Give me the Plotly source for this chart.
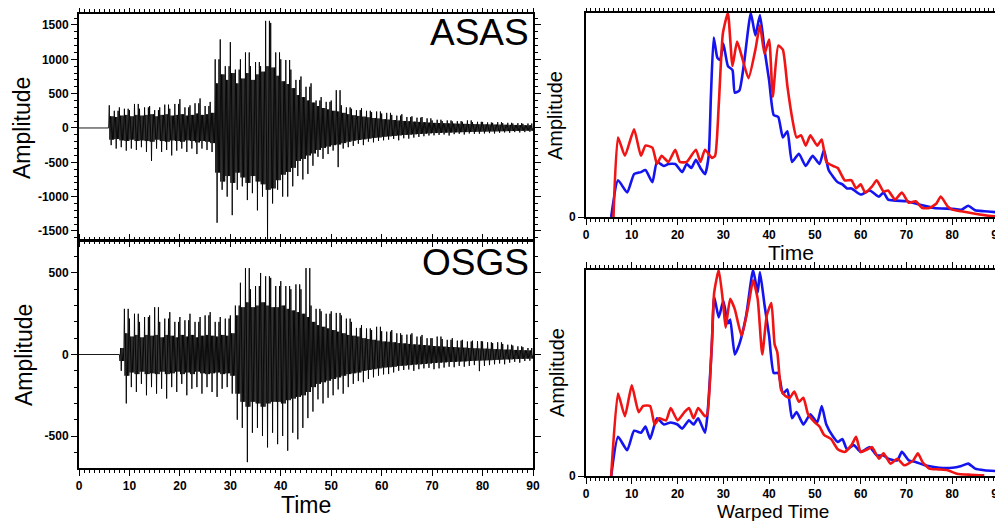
import numpy as np
import plotly.graph_objects as go

# ---------------- data ----------------
# Seismogram envelopes (1 s steps): positive peak and negative peak within second i
asas_up = [0, 0, 0, 0, 0, 0,
           330, 250, 300, 280, 260, 350, 280, 300, 320, 260, 300, 340, 280, 350, 420, 300, 330, 360, 430, 320, 380,
           1000, 1290, 900, 1250, 850, 1000, 1100, 900, 960, 900, 1560, 1530, 1100, 1000,
           990, 850, 700, 750, 600, 650, 400, 450, 380, 400,
           550, 330, 300, 280, 260, 290, 250, 230, 240, 210,
           220, 190, 180, 200, 160, 170, 150, 160, 140, 110,
           120, 100, 110, 95, 100, 90, 110, 85, 90, 88,
           80, 75, 85, 70, 75, 65, 70, 60, 65]
asas_lo = [0, 0, 0, 0, 0, 0,
           -250, -300, -280, -330, -300, -320, -280, -350, -480, -300, -350, -320, -400, -330, -300, -350, -300, -380, -300, -320, -350,
           -1380, -900, -1000, -1270, -900, -850, -1050, -950, -1200, -1000, -1640, -1100, -900, -1000,
           -1000, -850, -700, -750, -670, -550, -420, -450, -380, -330,
           -570, -300, -280, -260, -230, -250, -200, -210, -190, -180,
           -170, -160, -180, -150, -155, -140, -130, -120, -110, -107,
           -100, -95, -110, -90, -85, -95, -80, -85, -83, -80,
           -75, -80, -70, -65, -70, -60, -65, -60, -55]
# typical (dense core) level per second, read from the solid black part of the trace
asas_core = [0, 0, 0, 0, 0, 0,
             170, 160, 180, 190, 170, 190, 180, 190, 200, 170, 190, 200, 180, 190, 200, 180, 190, 210, 190, 200, 220,
             650, 780, 700, 800, 650, 720, 800, 700, 780, 820, 900, 880, 760, 680,
             640, 580, 480, 450, 400, 370, 320, 290, 270, 250,
             240, 220, 200, 185, 175, 165, 155, 145, 138, 128,
             122, 116, 108, 102, 98, 92, 88, 84, 78, 74,
             72, 69, 67, 64, 62, 60, 58, 56, 54, 53,
             51, 50, 48, 47, 45, 44, 42, 40, 40]
osgs_up = [0, 0, 0, 0, 0, 0, 0, 0, 0,
           280, 220, 250, 200, 230, 240, 290, 200, 220, 260, 200, 230, 210, 250, 200, 230, 240, 260, 200, 230, 220, 240,
           300, 440, 530, 400, 420, 500, 480, 470, 420, 450, 420, 400, 430, 400, 530,
           300, 280, 265, 250, 265, 255, 240, 220, 200, 163, 180, 160, 150, 170, 143,
           140, 150, 130, 120, 122, 130, 110, 120, 100, 100, 110, 95, 90, 100, 85,
           90, 80, 85, 82, 80, 75, 70, 75, 65, 60, 55, 50, 45, 40]
osgs_lo = [0, 0, 0, 0, 0, 0, 0, 0, -100,
           -300, -200, -230, -180, -250, -200, -240, -210, -270, -200, -230, -180, -250, -210, -200, -240, -200, -230, -260, -210, -200, -240,
           -400, -450, -660, -480, -450, -500, -570, -480, -550, -500, -590, -480, -520, -450, -390,
           -350, -275, -300, -265, -250, -214, -240, -200, -180, -163, -170, -150, -140, -130, -122,
           -120, -110, -100, -95, -92, -100, -90, -85, -82, -90, -85, -80, -75, -78, -70,
           -75, -70, -65, -102, -70, -65, -60, -55, -60, -50, -45, -50, -40, -38]
osgs_core = [0, 0, 0, 0, 0, 0, 0, 0, 40,
             130, 110, 120, 105, 120, 115, 120, 105, 120, 115, 105, 120, 110, 120, 105, 115, 120, 115, 110, 120, 115, 130,
             240, 290, 320, 290, 300, 320, 300, 290, 290, 300, 280, 270, 260, 250, 230,
             200, 180, 170, 160, 150, 140, 130, 120, 115, 110, 100, 95, 90, 85, 80,
             78, 75, 70, 68, 65, 62, 60, 58, 55, 52, 50, 48, 46, 45, 43,
             42, 40, 38, 37, 36, 35, 33, 32, 30, 30, 28, 27, 26, 25]

# Envelope curves (normalised amplitude)
t_time_blue = [5.5, 7, 9, 10.5, 12, 13, 14.5, 15.5, 17, 18, 19.5, 21, 22, 23, 24, 25, 26, 26.8, 27.3, 27.9, 28.7, 29.3, 30, 31, 32, 32.5, 33.5, 34.5, 36, 37, 38, 39, 40, 41, 42, 43, 44, 45, 46.5, 48, 49.5, 51, 52, 53, 55, 56, 57, 58, 60, 62, 64, 65, 66, 70, 73, 76, 80, 82, 83.5, 85, 87, 90]
a_time_blue = [0, 0.18, 0.12, 0.21, 0.22, 0.23, 0.17, 0.27, 0.25, 0.26, 0.26, 0.22, 0.26, 0.24, 0.28, 0.24, 0.21, 0.30, 0.60, 0.88, 0.78, 0.77, 0.85, 0.74, 0.72, 0.61, 0.62, 0.75, 1.0, 0.89, 0.99, 0.82, 0.67, 0.50, 0.49, 0.39, 0.42, 0.27, 0.31, 0.25, 0.30, 0.26, 0.33, 0.23, 0.17, 0.16, 0.14, 0.14, 0.11, 0.13, 0.10, 0.12, 0.085, 0.077, 0.06, 0.044, 0.04, 0.036, 0.055, 0.033, 0.028, 0.023]
t_time_red = [6, 7, 8.5, 10.5, 12, 13, 14.5, 15.5, 16.5, 18, 19.5, 20.5, 22, 24, 25, 26, 27.5, 28.2, 29, 29.9, 31, 32, 33, 34, 35.5, 37, 38, 39, 40, 40.8, 42, 43, 44, 45, 46, 47, 48, 49, 50.5, 51.5, 52.5, 54, 55, 56.5, 58, 59, 60, 61, 62.5, 63.5, 65, 66, 67.5, 69, 70.5, 72, 73.5, 75, 76.5, 77.5, 79, 80, 82, 85, 88, 90]
a_time_red = [0, 0.39, 0.30, 0.43, 0.30, 0.35, 0.34, 0.26, 0.30, 0.27, 0.33, 0.27, 0.27, 0.33, 0.27, 0.33, 0.29, 0.30, 0.55, 0.90, 1.0, 0.74, 0.86, 0.79, 0.68, 0.82, 0.94, 0.80, 0.87, 0.59, 0.84, 0.82, 0.64, 0.49, 0.39, 0.40, 0.35, 0.40, 0.35, 0.38, 0.27, 0.25, 0.24, 0.18, 0.18, 0.14, 0.16, 0.12, 0.15, 0.18, 0.125, 0.13, 0.085, 0.12, 0.07, 0.077, 0.044, 0.044, 0.065, 0.10, 0.052, 0.036, 0.028, 0.016, 0.006, 0.003]
t_warp_blue = [5.5, 7, 9, 10.5, 12, 13, 14, 15.5, 17, 18.5, 20, 21, 22.5, 23.5, 24.5, 26, 26.5, 27.5, 28, 29, 30, 31, 31.5, 32.5, 33.5, 35, 36.5, 37.5, 38, 39, 40, 41, 42, 43, 44, 45, 46, 47.5, 49, 50.5, 51.5, 52.5, 54, 55, 56, 57, 58.5, 60, 62, 63.5, 65, 66, 68, 69, 70.5, 72, 74, 76, 78, 80, 82, 83.5, 85, 87, 90]
a_warp_blue = [0, 0.19, 0.125, 0.22, 0.21, 0.24, 0.18, 0.28, 0.25, 0.26, 0.25, 0.23, 0.27, 0.25, 0.28, 0.21, 0.29, 0.64, 0.87, 0.77, 0.85, 0.74, 0.76, 0.59, 0.64, 0.78, 1.0, 0.89, 0.99, 0.83, 0.68, 0.50, 0.50, 0.40, 0.42, 0.28, 0.31, 0.25, 0.30, 0.26, 0.34, 0.25, 0.19, 0.165, 0.18, 0.13, 0.15, 0.117, 0.14, 0.10, 0.10, 0.084, 0.076, 0.117, 0.076, 0.068, 0.052, 0.044, 0.039, 0.04, 0.049, 0.06, 0.036, 0.028, 0.023]
t_warp_red = [5.5, 7, 8.5, 10, 11.5, 12.5, 14, 15, 16, 17.5, 18.5, 20, 21.5, 22.5, 23.5, 24.5, 26, 26.5, 27.5, 28, 29, 30, 30.5, 31.5, 32.5, 34, 35.5, 36.5, 37.5, 38.5, 39.5, 40.5, 41.2, 41.8, 42.6, 43.5, 44.5, 45.5, 46.5, 47.5, 48.5, 50, 51, 52, 53.5, 55, 56.5, 58, 59, 60, 61.5, 62.5, 64, 65, 66.5, 68, 69.5, 71.5, 72.5, 73.5, 75, 77, 79, 81, 84, 87]
a_warp_red = [0, 0.40, 0.29, 0.44, 0.31, 0.34, 0.34, 0.25, 0.28, 0.27, 0.33, 0.27, 0.31, 0.33, 0.28, 0.33, 0.29, 0.30, 0.65, 0.89, 1.0, 0.83, 0.72, 0.86, 0.81, 0.68, 0.83, 0.95, 0.86, 0.59, 0.78, 0.84, 0.64, 0.60, 0.42, 0.39, 0.38, 0.41, 0.36, 0.38, 0.30, 0.26, 0.24, 0.20, 0.18, 0.13, 0.117, 0.15, 0.19, 0.117, 0.13, 0.14, 0.084, 0.11, 0.06, 0.084, 0.052, 0.076, 0.11, 0.068, 0.036, 0.032, 0.028, 0.011, 0.006, 0.003]

time_ticks = [0, 10, 20, 30, 40, 50, 60, 70, 80, 90]
asas_ticks = [-1500, -1000, -500, 0, 500, 1000, 1500]
osgs_ticks = [-500, 0, 500]
env_ticks = [0]


def trace_xy(up, lo, core):
    """Draw each second as a dense wiggle: outer peaks (up/lo) and the core level read for that second."""
    xs, ys = [], []
    for i in range(len(up)):
        seq = [up[i], -core[i], core[i], lo[i], core[i], -core[i], up[i] if i % 2 else core[i], -core[i]]
        for k, v in enumerate(seq):
            xs.append(i + k / len(seq))
            ys.append(v)
    xs.append(len(up))
    ys.append(0)
    return xs, ys


FONT = "Liberation Sans, Arial, Helvetica, sans-serif"

fig = go.Figure()
xa, ya = trace_xy(asas_up, asas_lo, asas_core)
fig.add_trace(go.Scatter(x=xa, y=ya, mode="lines", line=dict(color="black", width=0.9),
                         xaxis="x", yaxis="y", showlegend=False, hoverinfo="skip"))
xo, yo = trace_xy(osgs_up, osgs_lo, osgs_core)
fig.add_trace(go.Scatter(x=xo, y=yo, mode="lines", line=dict(color="black", width=0.9),
                         xaxis="x2", yaxis="y2", showlegend=False, hoverinfo="skip"))

BLUE = "#1414f0"
RED = "#f01414"
for t, a, c, xr_, yr_ in [
    (t_time_blue, a_time_blue, BLUE, "x3", "y3"),
    (t_time_red, a_time_red, RED, "x3", "y3"),
    (t_warp_blue, a_warp_blue, BLUE, "x4", "y4"),
    (t_warp_red, a_warp_red, RED, "x4", "y4"),
]:
    fig.add_trace(go.Scatter(x=t, y=a, mode="lines",
                             line=dict(color=c, width=2.6, shape="spline", smoothing=0.5),
                             xaxis=xr_, yaxis=yr_, showlegend=False, hoverinfo="skip"))

tickfont = dict(family=FONT, size=12, color="black", weight="bold")


def xax(domain, anchor, labels):
    return dict(domain=domain, anchor=anchor, range=[0, 90], tickvals=time_ticks,
                ticktext=[str(v) for v in time_ticks], ticklabeloverflow="allow",
                showticklabels=labels, tickfont=tickfont,
                ticks="outside", ticklen=6, tickwidth=1, tickcolor="black",
                minor=dict(dtick=1, ticks="outside", ticklen=3, tickcolor="black", tickwidth=1),
                showline=True, linecolor="black", linewidth=2, mirror="ticks",
                showgrid=False, zeroline=False, fixedrange=True)


def yax(domain, anchor, rng, vals, minor=None):
    d = dict(domain=domain, anchor=anchor, range=rng, tickfont=tickfont,
             tickvals=vals, ticktext=[str(v) for v in vals], ticklabeloverflow="allow",
             ticks="outside", ticklen=6, tickwidth=1, tickcolor="black",
             showline=True, linecolor="black", linewidth=2,
             showgrid=False, zeroline=False, fixedrange=True)
    if minor is None:
        d["mirror"] = True
    else:
        d["mirror"] = "ticks"
        d["minor"] = dict(tick0=0, dtick=minor, ticks="outside", ticklen=3, tickcolor="black", tickwidth=1)
    return d


# the page puts the figure 8 px in from the top-left corner of the window
OFF = 8
W, H = 1003 - OFF, 521 - OFF


def px(x):
    return (x - OFF) / W


def py(y):
    return 1 - (y - OFF) / H


xl = [px(79), px(533)]
xr = [px(586), px(998)]

fig.update_layout(
    width=W, height=H, margin=dict(l=0, r=0, t=0, b=0, autoexpand=False),
    paper_bgcolor="white", plot_bgcolor="white",
    xaxis=xax(xl, "y", False),
    yaxis=yax([py(239), py(14)], "x", [-1617, 1660], asas_ticks, 100),
    xaxis2=xax(xl, "y2", True),
    yaxis2=yax([py(468), py(242)], "x2", [-696, 690], osgs_ticks, 100),
    xaxis3=xax(xr, "y3", True),
    yaxis3=yax([py(217), py(13)], "x3", [0, 1.0], env_ticks),
    xaxis4=xax(xr, "y4", True),
    yaxis4=yax([py(476), py(270)], "x4", [0, 1.0], env_ticks),
)


def ann(text, x, y, size, angle=0, xanchor="center", yanchor="middle"):
    fig.add_annotation(text=text, x=px(x), y=py(y), xref="paper", yref="paper",
                       showarrow=False, textangle=angle, xanchor=xanchor, yanchor=yanchor,
                       font=dict(family=FONT, size=size, color="black"))


ann("ASAS", 531, 32, 37, xanchor="right")
ann("OSGS", 531, 262, 37, xanchor="right")
ann("Amplitude", 22, 128, 23, angle=-90)
ann("Amplitude", 24, 355, 23, angle=-90)
ann("Time", 306, 505, 23)
ann("Amplitude", 555, 116, 20, angle=-90)
ann("Amplitude", 557, 373, 20, angle=-90)
ann("Time", 791, 252, 21)
ann("Warped Time", 773, 511, 19)

fig.write_html("out.html")
